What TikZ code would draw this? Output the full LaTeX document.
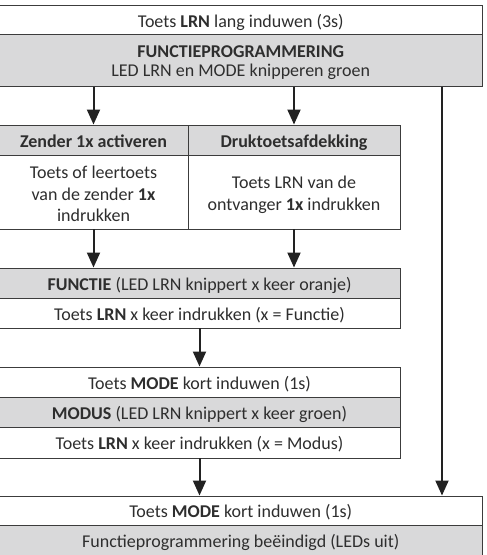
\documentclass[tikz,border=0pt]{standalone}
\usepackage{fontspec}
\setmainfont{Carlito}
\usetikzlibrary{arrows.meta,calc}
\definecolor{boxgrey}{HTML}{D9D9DA}
\definecolor{edge}{HTML}{3C3C3C}
\definecolor{txt}{HTML}{2E2E2E}
\definecolor{arrowc}{HTML}{222222}
\begin{document}
\begin{tikzpicture}[x=1pt,y=-1pt,
  every node/.style={inner sep=0pt, outer sep=0pt},
  bx/.style={draw=edge, line width=0.9pt, rectangle},
  wbox/.style={bx, fill=white},
  gbox/.style={bx, fill=boxgrey},
  tx/.style={anchor=base, text=txt, font=\fontsize{18}{21.5}\selectfont},
  arr/.style={draw=arrowc, line width=2pt, -{Triangle[width=13pt,length=15pt]}, shorten >=0.5pt},
]
\useasboundingbox (0,0) rectangle (487,555);
% boxes
\node[wbox, minimum width=483.5pt, minimum height=29.7pt] (a) at (240.75,19.85) {};
\node[gbox, minimum width=483.5pt, minimum height=52pt] (b) at (240.75,60.7) {};
\node[gbox, minimum width=189pt, minimum height=30pt] (c1h) at (93.5,140) {};
\node[gbox, minimum width=212pt, minimum height=30pt] (c2h) at (294,140) {};
\node[wbox, minimum width=189pt, minimum height=74pt] (c1b) at (93.5,192) {};
\node[wbox, minimum width=212pt, minimum height=74pt] (c2b) at (294,192) {};
\node[gbox, minimum width=401pt, minimum height=30pt] (f1) at (199.5,283) {};
\node[wbox, minimum width=401pt, minimum height=30pt] (f2) at (199.5,313) {};
\node[wbox, minimum width=401pt, minimum height=30pt] (m0) at (199.5,382) {};
\node[gbox, minimum width=401pt, minimum height=30pt] (m1) at (199.5,412) {};
\node[wbox, minimum width=401pt, minimum height=31pt] (m2) at (199.5,442.5) {};
\node[wbox, minimum width=483.5pt, minimum height=29pt] (e1) at (240.75,510.5) {};
\node[gbox, minimum width=483.5pt, minimum height=31pt] (e2) at (240.75,540.5) {};
% texts
\node[tx] (ta) at ($(a.center)+(0,8)$) {Toets \textbf{LRN} lang induwen (3s)};
\node[tx] (tb1) at ($(b.center)+(0,-3.4)$) {\textbf{FUNCTIEPROGRAMMERING}};
\node[tx] (tb2) at ($(b.center)+(0,16)$) {LED LRN en MODE knipperen groen};
\node[tx] (tc1h) at ($(c1h.center)+(0,7)$) {\textbf{Zender 1x activeren}};
\node[tx] (tc2h) at ($(c2h.center)+(0,7)$) {\textbf{Druktoetsafdekking}};
\node[tx] (tc1a) at ($(c1b.center)+(0,-13.7)$) {Toets of leertoets};
\node[tx] (tc1b) at ($(c1b.center)+(0,8)$) {van de zender \textbf{1x}};
\node[tx] (tc1c) at ($(c1b.center)+(0,29.7)$) {indrukken};
\node[tx] (tc2a) at ($(c2b.center)+(0,-3.7)$) {Toets LRN van de};
\node[tx] (tc2b) at ($(c2b.center)+(0,18)$) {ontvanger \textbf{1x} indrukken};
\node[tx] (tf1) at ($(f1.center)+(0,7)$) {\textbf{FUNCTIE} (LED LRN knippert x keer oranje)};
\node[tx] (tf2) at ($(f2.center)+(0,7)$) {Toets \textbf{LRN} x keer indrukken (x = Functie)};
\node[tx] (tm0) at ($(m0.center)+(0,7)$) {Toets \textbf{MODE} kort induwen (1s)};
\node[tx] (tm1) at ($(m1.center)+(0,7)$) {\textbf{MODUS} (LED LRN knippert x keer groen)};
\node[tx] (tm2) at ($(m2.center)+(0,7)$) {Toets \textbf{LRN} x keer indrukken (x = Modus)};
\node[tx] (te1) at ($(e1.center)+(0,7)$) {Toets \textbf{MODE} kort induwen (1s)};
\node[tx] (te2) at ($(e2.center)+(0,7)$) {Functieprogrammering be\"eindigd (LEDs uit)};
% connectors
\coordinate (rt) at (442,86.7);
\draw[arr] (b.south -| c1h.north) -- (c1h.north);
\draw[arr] (b.south -| c2h.north) -- (c2h.north);
\draw[arr] (rt) -- (rt |- e1.north);
\draw[arr] (c1b.south) -- (c1b.south |- f1.north);
\draw[arr] (c2b.south) -- (c2b.south |- f1.north);
\draw[arr] (f2.south) -- (m0.north);
\draw[arr] (m2.south) -- (m2.south |- e1.north);
\end{tikzpicture}
\end{document}
